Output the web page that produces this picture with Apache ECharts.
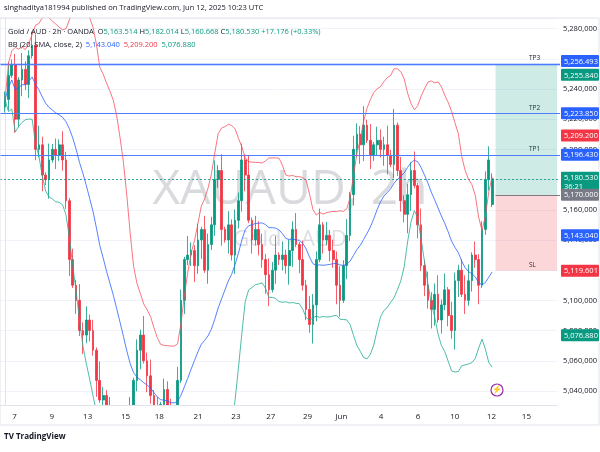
<!DOCTYPE html>
<html><head><meta charset="utf-8">
<script src="https://cdn.jsdelivr.net/npm/echarts@6/dist/echarts.min.js"></script>
<style>html,body{margin:0;padding:0;background:#fff}#c{width:600px;height:452px}</style>
</head><body><div id="c"></div>
<script>
const closes=[5233,5249,5256,5220,5246,5253,5243,5262,5269,5200,5203,5183,5180,5193,5200,5196,5203,5193,5166,5127,
5110,5100,5080,5077,5087,5080,5067,5047,5034,5037,5024,5027,5021,5014,5017,5011,5008,5027,5047,5067,
5077,5060,5050,5037,5027,5021,5031,5041,5024,5014,5021,5047,5100,5127,5130,5133,5123,5140,5147,5120,
5137,5150,5180,5186,5147,5140,5150,5130,5153,5166,5193,5183,5153,5140,5147,5137,5127,5117,5107,5120,
5130,5127,5130,5123,5133,5147,5137,5127,5110,5094,5084,5097,5127,5150,5140,5143,5133,5127,5110,5100,
5123,5143,5170,5200,5210,5203,5216,5206,5196,5203,5206,5200,5203,5196,5190,5216,5186,5166,5157,5170,
5186,5176,5150,5123,5110,5100,5094,5104,5087,5097,5107,5090,5080,5113,5120,5104,5100,5113,5130,5127,
5110,5147,5180,5193,5180.53];
const firstOpen=5228, lastOpen=5163.514;
const wickUp="3524163254731624253142635241732514263514273625143625417326154372615243627153426371524361725436152437261543726154372615243716253472615324761523";
const wickDn="2415362514362715243615273426153724163524716325142736152463715243615273461524376152437615243761524376152437615243671524376152437615243761524371";
const dateLabels=[["7",14.6],["9",52],["13",88],["15",126],["18",160],["21",199],["23",237],["27",272],["29",309],["Jun",343],["4",383],["6",420],["10",457],["12",494],["15",529]];
const levels={tp3:5256.493,tp2:5223.85,tp1:5196.43,entry:5170,sl:5119.601,last:5180.53,tp3b:5255.84};
const bbVals={mid:5143.04,up:5209.2,low:5076.88};

const UP='#089981',DN='#F23645';
const candles=closes.map((c,i)=>{
  const o=i===0?firstOpen:(i===closes.length-1?lastOpen:closes[i-1]);
  const h=Math.max(o,c)+(+wickUp[i%wickUp.length])*1.8;
  const l=Math.min(o,c)-(+wickDn[i%wickDn.length])*1.8;
  return [i,o,c,l,h];
});
const mid=[],up=[],low=[],diff=[];
closes.forEach((c,i)=>{
  const s=closes.slice(Math.max(0,i-19),i+1);
  const m=s.reduce((a,b)=>a+b,0)/s.length;
  const sd=Math.sqrt(s.reduce((a,b)=>a+(b-m)*(b-m),0)/s.length);
  mid.push([i,m]);up.push([i,m+2*sd]);low.push([i,m-2*sd]);diff.push([i,4*sd]);
});
const px=x=>(x-5)/3.4;
const chart=echarts.init(document.getElementById('c'));
const F='"Open Sans", Roboto, sans-serif';
chart.setOption({
  animation:false,
  textStyle:{fontFamily:F},
  grid:{left:0,right:40,top:18,bottom:47},
  xAxis:{type:'value',min:-1.5,max:163.2,z:6,
    axisLine:{show:true,lineStyle:{color:'#e0e3eb'}},axisTick:{show:false},
    splitLine:{show:false},
    axisLabel:{customValues:dateLabels.map(d=>px(d[1])),formatter:v=>{const d=dateLabels.find(d=>Math.abs(px(d[1])-v)<0.01);return d?d[0]:''},color:'#131722',fontSize:8,margin:8}},
  yAxis:{type:'value',position:'right',min:5030.7,max:5287,splitNumber:12,scale:true,
    axisLine:{show:true,lineStyle:{color:'#e0e3eb'}},axisTick:{show:false},
    splitLine:{lineStyle:{color:'#f0f3fa'}},
    axisLabel:{showMinLabel:false,showMaxLabel:false,color:'#131722',fontSize:7.5,margin:6,formatter:v=>(v*1000).toLocaleString('en-US')+''}},
  series:[
    {type:'line',data:low,stack:'bb',symbol:'none',lineStyle:{opacity:0},silent:true},
    {type:'line',data:diff,stack:'bb',symbol:'none',lineStyle:{opacity:0},areaStyle:{color:'rgba(33,150,243,0.06)'},silent:true},
    {type:'line',data:up,symbol:'none',lineStyle:{color:'#F7525F',width:0.8}},
    {type:'line',data:low,symbol:'none',lineStyle:{color:'#22AB94',width:0.8}},
    {type:'line',data:mid,symbol:'none',lineStyle:{color:'#2962FF',width:0.8}},
    {type:'candlestick',data:candles,barWidth:2.2,clip:true,
      itemStyle:{color:UP,color0:DN,borderColor:UP,borderColor0:DN,borderWidth:0.8},
      markArea:{silent:true,data:[
        [{xAxis:145,yAxis:levels.entry,itemStyle:{color:'rgba(8,153,129,0.2)'}},{xAxis:163.2,yAxis:levels.tp3b}],
        [{xAxis:145,yAxis:levels.sl,itemStyle:{color:'rgba(242,54,69,0.2)'}},{xAxis:163.2,yAxis:levels.entry}]]}}
  ]
});
const Y=v=>chart.convertToPixel({yAxisIndex:0},v);
const X=v=>chart.convertToPixel({xAxisIndex:0},v);
const hline=(v,col,w,dash,x0)=>({type:'line',z:3,shape:{x1:x0||0,y1:Math.round(Y(v))+0.5,x2:560,y2:Math.round(Y(v))+0.5},style:{stroke:col,lineWidth:w,lineDash:dash||null}});
const badge=(v,txt,col,h)=>({type:'group',z:100,children:[
  {type:'rect',z:100,shape:{x:561,y:Y(v)-(h||6),width:38,height:(h||6)*2,r:1},style:{fill:col}},
  {type:'text',z:101,style:{x:564,y:Y(v)-(h||6)+2,text:txt,fill:'#fff',font:'7.5px '+F,lineHeight:9}}]});
const tag=(v,t)=>({type:'text',style:{x:529,y:Y(v)-9,text:t,fill:'#131722',font:'6.5px '+F}});
chart.setOption({graphic:[
  hline(levels.tp3,'rgba(41,98,255,0.25)',3),
  hline(levels.tp3,'#4f7cff',1),hline(levels.tp2,'#4f7cff',1),hline(levels.tp1,'#4f7cff',1),
  hline(levels.last,'#089981',0.8,[2,2]),hline(levels.entry,'#787b86',1,null,X(145)),
  {type:'rect',z:4,shape:{x:0,y:405.5,width:600,height:47},style:{fill:'#fff'}},
  {type:'text',style:{x:4,y:4,text:'singhaditya181994 published on TradingView.com, Jun 12, 2025 10:23 UTC',fill:'#131722',font:'7.5px '+F}},
  {type:'rect',z:5,shape:{x:0,y:18,width:599,height:407},style:{fill:'none',stroke:'#e0e3eb',lineWidth:1}},
  {type:'text',style:{x:290,y:190,text:'XAUAUD, 2h',fill:'rgba(120,123,134,0.28)',font:'48px '+F,align:'center',verticalAlign:'middle'}},
  {type:'text',style:{x:290,y:240,text:'Gold / AUD',fill:'rgba(120,123,134,0.25)',font:'22px '+F,align:'center',verticalAlign:'middle'}},
  {type:'text',z:10,style:{x:8,y:28,text:'{a|Gold / AUD · 2h · OANDA  }{a|O}{g|5,163.514 }{a|H}{g|5,182.014 }{a|L}{g|5,160.668 }{a|C}{g|5,180.530 +17.176 (+0.33%)}',
    rich:{a:{fill:'#131722',fontSize:7.5,fontFamily:F},g:{fill:'#089981',fontSize:7.5,fontFamily:F}}}},
  {type:'text',z:10,style:{x:8,y:41,text:'{a|BB (20, SMA, close, 2)  }{m|5,143.040  }{u|5,209.200  }{l|5,076.880}',
    rich:{a:{fill:'#131722',fontSize:7.5,fontFamily:F},m:{fill:'#2962FF',fontSize:7.5,fontFamily:F},u:{fill:'#F23645',fontSize:7.5,fontFamily:F},l:{fill:'#089981',fontSize:7.5,fontFamily:F}}}},
  tag(levels.tp3,'TP3'),tag(levels.tp2,'TP2'),tag(levels.tp1,'TP1'),tag(levels.sl,'SL'),
  badge(levels.tp3+2,'5,256.493','#2962FF'),badge(levels.tp3b-6.5,'5,255.840','#089981'),
  badge(levels.tp2,'5,223.850','#2962FF'),badge(bbVals.up,'5,209.200','#F23645'),
  badge(levels.tp1,'5,196.430','#2962FF'),
  {type:'group',z:100,children:[{type:'rect',z:100,shape:{x:561,y:Y(levels.last)-7,width:38,height:20,r:1},style:{fill:'#089981'}},
    {type:'text',z:101,style:{x:564,y:Y(levels.last)-5,text:'5,180.530\n36:21',fill:'#fff',font:'7.5px '+F,lineHeight:9}}]},
  badge(levels.entry,'5,170.000','#787b86'),badge(bbVals.mid,'5,143.040','#2962FF'),
  badge(levels.sl,'5,119.601','#F23645'),badge(bbVals.low,'5,076.880','#089981'),
  {type:'circle',z:10,shape:{cx:497,cy:390,r:6},style:{fill:'#fff',stroke:'#9C27B0',lineWidth:1.2}},
  {type:'text',z:11,style:{x:497,y:390,text:'⚡',fill:'#9C27B0',font:'8px sans-serif',align:'center',verticalAlign:'middle'}},
  {type:'text',z:10,style:{x:4,y:433,text:'TV TradingView',fill:'#131722',font:'bold 8px '+F}}
]});
</script></body></html>
